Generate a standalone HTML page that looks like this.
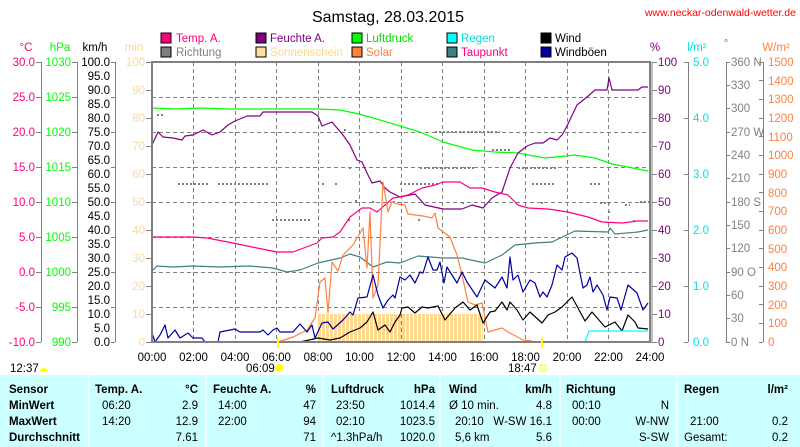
<!DOCTYPE html>
<html><head><meta charset="utf-8"><style>
html,body{margin:0;padding:0;background:#fff;}
svg{display:block;font-family:"Liberation Sans",sans-serif;}
</style></head><body>
<svg width="800" height="447" viewBox="0 0 800 447" xmlns="http://www.w3.org/2000/svg">
<rect width="800" height="447" fill="#fff"/>
<text x="388" y="22" font-size="16" text-anchor="middle" fill="#000">Samstag, 28.03.2015</text>
<text x="796" y="16" font-size="10.5" text-anchor="end" fill="#ff0000">www.neckar-odenwald-wetter.de</text>

<!-- legend -->
<g font-size="11.5" stroke="#000" stroke-width="1">
<rect x="161" y="33" width="10" height="10" fill="#ff0080"/>
<rect x="161" y="47" width="10" height="10" fill="#808080"/>
<rect x="256" y="33" width="10" height="10" fill="#800080"/>
<rect x="256" y="47" width="10" height="10" fill="#ffe0a0"/>
<rect x="352" y="33" width="10" height="10" fill="#00ff00"/>
<rect x="352" y="47" width="10" height="10" fill="#ff8040"/>
<rect x="447" y="33" width="10" height="10" fill="#00ffff"/>
<rect x="447" y="47" width="10" height="10" fill="#408080"/>
<rect x="541" y="33" width="10" height="10" fill="#000"/>
<rect x="541" y="47" width="10" height="10" fill="#0000a0"/>
</g>
<g font-size="11.5">
<text x="176" y="42" fill="#ff0080">Temp. A.</text>
<text x="176" y="56" fill="#808080">Richtung</text>
<text x="270" y="42" fill="#800080">Feuchte A.</text>
<text x="270" y="56" fill="#ffd890">Sonnenschein</text>
<text x="366" y="42" fill="#00dd00">Luftdruck</text>
<text x="366" y="56" fill="#ff8040">Solar</text>
<text x="461" y="42" fill="#00e0e0">Regen</text>
<text x="461" y="56" fill="#ff0080">Taupunkt</text>
<text x="555" y="42" fill="#000">Wind</text>
<text x="555" y="56" fill="#000">Windböen</text>
</g>

<!-- units -->
<g font-size="11.5">
<text x="26" y="51" text-anchor="middle" fill="#ff0080">°C</text>
<text x="60" y="51" text-anchor="middle" fill="#00ff00">hPa</text>
<text x="95" y="51" text-anchor="middle" fill="#000">km/h</text>
<text x="134" y="51" text-anchor="middle" fill="#ffd890">min</text>
<text x="655" y="51" text-anchor="middle" fill="#800080">%</text>
<text x="697" y="51" text-anchor="middle" fill="#00e0e0">l/m²</text>
<text x="726" y="47" text-anchor="middle" fill="#808080">°</text>
<text x="776" y="51" text-anchor="middle" fill="#ff8040">W/m²</text>
</g>

<!-- axis lines -->
<g stroke="#808080" stroke-width="1">
<line x1="41.5" y1="62" x2="41.5" y2="342"/>
<line x1="77.5" y1="62" x2="77.5" y2="342"/>
<line x1="115.5" y1="62" x2="115.5" y2="342"/>
<line x1="688.5" y1="62" x2="688.5" y2="342"/>
<line x1="726.5" y1="62" x2="726.5" y2="342"/>
<line x1="763.5" y1="62" x2="763.5" y2="342"/>
</g>

<!-- left tick labels -->
<g font-size="11.5" text-anchor="end">
<g fill="#ff0080">
<text x="35" y="66">30.0</text><text x="35" y="101">25.0</text><text x="35" y="136">20.0</text><text x="35" y="171">15.0</text><text x="35" y="206">10.0</text><text x="35" y="241">5.0</text><text x="35" y="276">0.0</text><text x="35" y="311">-5.0</text><text x="35" y="346">-10.0</text>
</g>
<g fill="#00ff00">
<text x="71" y="66">1030</text><text x="71" y="101">1025</text><text x="71" y="136">1020</text><text x="71" y="171">1015</text><text x="71" y="206">1010</text><text x="71" y="241">1005</text><text x="71" y="276">1000</text><text x="71" y="311">995</text><text x="71" y="346">990</text>
</g>
<g fill="#000">
<text x="110" y="66">100.0</text><text x="110" y="80">95.0</text><text x="110" y="94">90.0</text><text x="110" y="108">85.0</text><text x="110" y="122">80.0</text><text x="110" y="136">75.0</text><text x="110" y="150">70.0</text><text x="110" y="164">65.0</text><text x="110" y="178">60.0</text><text x="110" y="192">55.0</text><text x="110" y="206">50.0</text><text x="110" y="220">45.0</text><text x="110" y="234">40.0</text><text x="110" y="248">35.0</text><text x="110" y="262">30.0</text><text x="110" y="276">25.0</text><text x="110" y="290">20.0</text><text x="110" y="304">15.0</text><text x="110" y="318">10.0</text><text x="110" y="332">5.0</text><text x="110" y="346">0.0</text>
</g>
<g fill="#ffd890">
<text x="145" y="66">100</text><text x="145" y="94">90</text><text x="145" y="122">80</text><text x="145" y="150">70</text><text x="145" y="178">60</text><text x="145" y="206">50</text><text x="145" y="234">40</text><text x="145" y="262">30</text><text x="145" y="290">20</text><text x="145" y="318">10</text><text x="145" y="346">0</text>
</g>
</g>
<g stroke="#808080">
<path d="M36 62.5h5M36 97.5h5M36 132.5h5M36 167.5h5M36 202.5h5M36 237.5h5M36 272.5h5M36 307.5h5M36 342.5h5"/>
<path d="M72 62.5h5M72 97.5h5M72 132.5h5M72 167.5h5M72 202.5h5M72 237.5h5M72 272.5h5M72 307.5h5M72 342.5h5"/>
<path d="M111 62.5h4M111 97.5h4M111 132.5h4M111 167.5h4M111 202.5h4M111 237.5h4M111 272.5h4M111 307.5h4M111 342.5h4"/>
<path d="M146 62.5h5M146 90.5h5M146 118.5h5M146 146.5h5M146 174.5h5M146 202.5h5M146 230.5h5M146 258.5h5M146 286.5h5M146 314.5h5M146 342.5h5"/>
<path d="M652 62.5h5M652 90.5h5M652 118.5h5M652 146.5h5M652 174.5h5M652 202.5h5M652 230.5h5M652 258.5h5M652 286.5h5M652 314.5h5M652 342.5h5"/>
<path d="M684 62.5h4M684 118.5h4M684 174.5h4M684 230.5h4M684 286.5h4M684 342.5h4"/>
<path d="M726 62.5h4M726 85.5h4M726 108.5h4M726 132.5h4M726 155.5h4M726 178.5h4M726 202.5h4M726 225.5h4M726 248.5h4M726 272.5h4M726 295.5h4M726 318.5h4M726 342.5h4"/>
<path d="M759 62.5h4M759 80.5h4M759 99.5h4M759 118.5h4M759 136.5h4M759 155.5h4M759 174.5h4M759 192.5h4M759 211.5h4M759 230.5h4M759 248.5h4M759 267.5h4M759 286.5h4M759 304.5h4M759 323.5h4M759 342.5h4"/>
</g>

<!-- right tick labels -->
<g font-size="11.5">
<g fill="#800080">
<text x="658" y="66">100</text><text x="658" y="94">90</text><text x="658" y="122">80</text><text x="658" y="150">70</text><text x="658" y="178">60</text><text x="658" y="206">50</text><text x="658" y="234">40</text><text x="658" y="262">30</text><text x="658" y="290">20</text><text x="658" y="318">10</text><text x="658" y="346">0</text>
</g>
<g fill="#00e0e0">
<text x="693" y="66">5.0</text><text x="693" y="122">4.0</text><text x="693" y="178">3.0</text><text x="693" y="234">2.0</text><text x="693" y="290">1.0</text><text x="693" y="346">0.0</text>
</g>
<g fill="#808080">
<text x="731" y="66">360 N</text><text x="731" y="89">330</text><text x="731" y="112">300</text><text x="731" y="136">270 W</text><text x="731" y="159">240</text><text x="731" y="182">210</text><text x="731" y="206">180 S</text><text x="731" y="229">150</text><text x="731" y="252">120</text><text x="731" y="276">90  O</text><text x="731" y="299">60</text><text x="731" y="322">30</text><text x="731" y="346">0   N</text>
</g>
<g fill="#ff8040">
<text x="768" y="66">1500</text><text x="768" y="85">1400</text><text x="768" y="103">1300</text><text x="768" y="122">1200</text><text x="768" y="141">1100</text><text x="768" y="159">1000</text><text x="768" y="178">900</text><text x="768" y="197">800</text><text x="768" y="215">700</text><text x="768" y="234">600</text><text x="768" y="253">500</text><text x="768" y="271">400</text><text x="768" y="290">300</text><text x="768" y="309">200</text><text x="768" y="327">100</text><text x="768" y="346">0</text>
</g>
</g>

<!-- grid -->
<g stroke="#808080" stroke-dasharray="4,3" stroke-width="1">
<path d="M152 97.5H650M152 132.5H650M152 167.5H650M152 202.5H650M152 237.5H650M152 272.5H650M152 307.5H650"/>
<path d="M193.5 62V342M235.5 62V342M276.5 62V342M318.5 62V342M359.5 62V342M401.5 62V342M442.5 62V342M484.5 62V342M525.5 62V342M567.5 62V342M608.5 62V342"/>
</g>

<!-- sunshine bars -->
<defs><pattern id="sun" x="318" y="0" width="4" height="4" patternUnits="userSpaceOnUse"><rect width="3" height="4" fill="#ffd890"/></pattern></defs>
<rect x="318" y="314" width="165" height="28" fill="url(#sun)"/>

<!-- Richtung dots -->
<g stroke="#808080" stroke-width="2" stroke-dasharray="2,2">
<path d="M157 115h6M178 184h30M218 184h50M272 220h40M322 184h4M335 184h3M348 220h3M344 130h4M349 168h4M400 184h40M420 168h55M435 132h65M492 150h18M532 184h24M518 168h40M541 203h3M590 184h12M600 203h10M608 212h3M625 205h5M633 221h4M640 202h10M355 201h4M372 202h4M393 202h4M418 220h4M462 203h4"/>
</g>

<!-- series -->
<g fill="none" stroke-width="1.2" stroke-linejoin="round">
<polyline stroke="#00ff00" points="152,108 175,109 200,108 230,109 260,109 290,109 318,109 340,110 359,114 380,120 400,126 420,132 443,142 472,150 495,152 518,153 545,158 575,155 595,158 612,164 648,171"/>
<polyline stroke="#800080" points="152,145 158,132 163,137 173,138 182,140 185,136 193,135 203,130 212,135 220,132 228,125 235,121 247,116 260,116 263,112 312,112 318,116 322,126 332,122 337,128 343,135 350,145 357,160 362,162 367,173 372,183 380,181 385,188 390,192 400,197 415,194 425,205 443,209 462,209 472,205 483,208 492,198 502,192 510,168 518,153 527,146 535,143 543,143 550,138 557,140 562,135 567,126 577,105 587,97 595,90 607,90 609,78 612,90 638,90 642,87 648,87"/>
<polyline stroke="#ff0080" points="152,237 193,237 207,238 233,243 257,248 277,252 293,252 317,243 322,238 333,237 340,232 350,217 362,208 370,208 377,212 385,205 393,198 400,197 408,195 422,188 435,185 443,182 460,182 470,188 482,188 495,192 508,195 518,205 528,208 548,209 568,212 588,217 602,222 622,223 638,221 648,221"/>
<polyline stroke="#408080" points="152,271 157,266 173,267 193,266 220,267 250,266 273,268 287,272 300,270 318,263 340,258 350,254 360,257 373,267 387,262 400,263 418,256 443,258 462,258 485,263 502,255 515,245 535,243 552,242 575,231 608,232 610,228 615,234 638,232 648,230"/>
<polyline stroke="#ff8040" points="278,342 293,337 307,330 315,318 320,282 325,278 328,313 332,262 338,271 343,255 353,245 363,228 367,268 370,212 373,298 378,285 383,182 388,212 392,202 397,204 405,205 408,214 423,216 432,218 435,213 438,228 450,237 457,255 462,275 468,302 475,305 482,303 488,332 502,328 508,332 523,340 532,341"/>
<polyline stroke="#0000a0" points="152,333 155,342 160,335 165,325 168,338 175,330 180,338 188,333 193,338 202,338 205,342 218,342 220,332 235,329 240,332 260,332 263,330 268,335 273,330 277,328 280,332 293,332 300,324 307,332 312,325 315,338 322,323 328,322 333,329 343,320 350,312 353,315 358,298 367,297 373,275 378,295 383,308 388,300 393,295 395,298 400,277 405,280 410,275 415,283 420,272 423,273 428,257 433,270 437,270 440,262 444,283 447,267 457,283 462,272 467,282 477,297 485,280 495,288 502,277 507,288 510,257 513,280 518,275 523,292 530,280 535,283 540,297 543,292 547,297 552,285 557,265 562,270 565,257 572,253 577,258 583,288 587,285 590,277 593,292 597,285 603,295 607,310 610,297 617,298 621,310 628,285 637,293 643,310 648,303"/>
<polyline stroke="#000" points="300,342 318,338 330,340 340,338 350,332 360,328 367,322 373,312 378,330 385,325 390,332 395,322 400,315 402,308 408,307 415,313 422,307 428,308 438,306 445,320 455,308 463,302 470,310 477,305 483,323 490,312 495,311 502,302 507,310 510,302 517,310 523,320 530,312 542,323 548,315 555,312 562,307 572,297 585,321 592,312 605,327 615,322 622,331 628,315 635,322 638,328 648,329"/>
<polyline stroke="#00ffff" points="585,342 589,331 648,331"/>
</g>

<!-- plot border -->
<rect x="152" y="62" width="498" height="280" fill="none" stroke="#808080" stroke-width="2"/>
<line x1="652" y1="62" x2="652" y2="343" stroke="#808080" stroke-width="1"/>

<!-- sunrise/sunset markers -->
<line x1="278" y1="337" x2="278" y2="348" stroke="#ffff00" stroke-width="2"/>
<line x1="542" y1="337" x2="542" y2="348" stroke="#ffff00" stroke-width="2"/>

<!-- time labels -->
<g font-size="11.5" text-anchor="middle" fill="#000">
<text x="152" y="361">00:00</text><text x="193.5" y="361">02:00</text><text x="235" y="361">04:00</text><text x="276.5" y="361">06:00</text><text x="318" y="361">08:00</text><text x="359.5" y="361">10:00</text><text x="401" y="361">12:00</text><text x="442.5" y="361">14:00</text><text x="484" y="361">16:00</text><text x="525.5" y="361">18:00</text><text x="567" y="361">20:00</text><text x="608.5" y="361">22:00</text><text x="650" y="361">24:00</text>
</g>
<g font-size="11.5" fill="#000">
<text x="10" y="372">12:37</text>
<text x="246" y="372">06:09</text>
<text x="508" y="372">18:47</text>
</g>
<path d="M40 372a4 4 0 0 1 8 0z" fill="#ffff00"/>
<circle cx="279" cy="368" r="4" fill="#ffff00"/>
<rect x="540" y="365" width="6" height="6" fill="none" stroke="#ffff00"/>

<!-- table -->
<rect x="0" y="375" width="800" height="72" fill="#ccffff"/>
<g stroke="#ffffff" stroke-width="1.5">
<path d="M89 375V447M206 375V447M323 375V447M440 375V447M560 375V447M677 375V447"/>
</g>
<g font-size="11.5" fill="#000">
<g font-weight="bold">
<text x="9" y="393">Sensor</text>
<text x="95" y="393">Temp. A.</text>
<text x="198" y="393" text-anchor="end">°C</text>
<text x="213" y="393">Feuchte A.</text>
<text x="316" y="393" text-anchor="end">%</text>
<text x="331" y="393">Luftdruck</text>
<text x="435" y="393" text-anchor="end">hPa</text>
<text x="449" y="393">Wind</text>
<text x="552" y="393" text-anchor="end">km/h</text>
<text x="566" y="393">Richtung</text>
<text x="684" y="393">Regen</text>
<text x="788" y="393" text-anchor="end">l/m²</text>
<text x="9" y="409">MinWert</text>
<text x="9" y="425">MaxWert</text>
<text x="9" y="441">Durchschnitt</text>
</g>
<text x="102" y="409">06:20</text><text x="198" y="409" text-anchor="end">2.9</text>
<text x="218" y="409">14:00</text><text x="316" y="409" text-anchor="end">47</text>
<text x="336" y="409">23:50</text><text x="435" y="409" text-anchor="end">1014.4</text>
<text x="449" y="409">Ø 10 min.</text><text x="552" y="409" text-anchor="end">4.8</text>
<text x="572" y="409">00:10</text><text x="669" y="409" text-anchor="end">N</text>

<text x="102" y="425">14:20</text><text x="198" y="425" text-anchor="end">12.9</text>
<text x="218" y="425">22:00</text><text x="316" y="425" text-anchor="end">94</text>
<text x="336" y="425">02:10</text><text x="435" y="425" text-anchor="end">1023.5</text>
<text x="455" y="425">20:10</text><text x="552" y="425" text-anchor="end">W-SW 16.1</text>
<text x="572" y="425">00:00</text><text x="669" y="425" text-anchor="end">W-NW</text>
<text x="690" y="425">21:00</text><text x="788" y="425" text-anchor="end">0.2</text>

<text x="198" y="441" text-anchor="end">7.61</text>
<text x="316" y="441" text-anchor="end">71</text>
<text x="331" y="441">^1.3hPa/h</text><text x="435" y="441" text-anchor="end">1020.0</text>
<text x="455" y="441">5,6 km</text><text x="552" y="441" text-anchor="end">5.6</text>
<text x="669" y="441" text-anchor="end">S-SW</text>
<text x="684" y="441">Gesamt:</text><text x="788" y="441" text-anchor="end">0.2</text>
</g>
</svg>
</body></html>
